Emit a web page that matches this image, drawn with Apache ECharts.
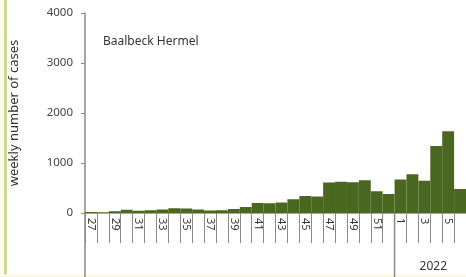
<!DOCTYPE html>
<html>
<head>
<meta charset="utf-8">
<script src="https://cdn.jsdelivr.net/npm/echarts@6/dist/echarts.min.js"></script>
<style>
html, body { margin: 0; padding: 0; background: #fff; }
#main { width: 466px; height: 277px; }
</style>
</head>
<body>
<div id="main"></div>
<script>
// weeks: 27..52 of 2021, then 1..6 of 2022
var weeks = ['27','28','29','30','31','32','33','34','35','36','37','38','39','40',
  '41','42','43','44','45','46','47','48','49','50','51','52','1','2','3','4','5','6'];
var cases = [20, 10, 35, 65, 45, 55, 70, 95, 90, 70, 50, 55, 80, 120,
  200, 195, 210, 275, 340, 330, 610, 625, 615, 655, 435, 380,
  670, 775, 645, 1340, 1635, 480];
var yTicks = [0, 1000, 2000, 3000, 4000];
var yearLabel = '2022';
var yearStart = '1';

var font = 'Noto Sans';
var chart = echarts.init(document.getElementById('main'));

var option = {
  animation: false,
  textStyle: { fontFamily: font },
  title: {
    text: 'Baalbeck Hermel',
    left: 98, top: 31,
    textStyle: { fontSize: 12, fontWeight: 'normal', color: '#333', fontFamily: font }
  },
  grid: { left: 83, top: 13, bottom: 64, right: -6 },
  xAxis: {
    type: 'category',
    data: weeks,
    axisLine: { lineStyle: { color: '#8a8a8a', width: 1.5 } },
    axisTick: { show: true, length: 30, interval: 0, lineStyle: { color: '#888' } },
    axisLabel: { interval: 1, rotate: -90, margin: 5, fontSize: 11, color: '#333' }
  },
  yAxis: {
    type: 'value',
    min: yTicks[0], max: yTicks[yTicks.length - 1], interval: 1000,
    name: 'weekly number of cases',
    nameLocation: 'middle', nameGap: 64,
    nameTextStyle: { fontSize: 13, color: '#333' },
    splitLine: { show: false },
    axisLine: { show: true, lineStyle: { color: '#8a8a8a', width: 1.5 } },
    axisTick: { show: true, length: 4, lineStyle: { color: '#8a8a8a' } },
    axisLabel: { fontSize: 11.5, color: '#444', margin: 12, formatter: function (v) { return String(v); } }
  },
  series: [{
    type: 'bar',
    data: cases,
    barCategoryGap: '0%',
    itemStyle: { color: '#4a6720' }
  }]
};
chart.setOption(option);

// extra lines: y axis extends to bottom, year separator, year label, left border
var yZero = chart.convertToPixel({ yAxisIndex: 0 }, yTicks[0]);
var xFirst = chart.convertToPixel({ xAxisIndex: 0 }, weeks[0]);
var xYear = chart.convertToPixel({ xAxisIndex: 0 }, yearStart);
var xLast = chart.convertToPixel({ xAxisIndex: 0 }, weeks[weeks.length - 1]);
var halfBand = (chart.convertToPixel({ xAxisIndex: 0 }, weeks[1]) - xFirst) / 2;
chart.setOption({
  graphic: [
    { type: 'rect', shape: { x: 0, y: 0, width: 4, height: 277 }, style: { fill: '#fbfbea' }, silent: true },
    { type: 'rect', shape: { x: 4, y: 0, width: 3, height: 277 }, style: { fill: '#d3d594' }, silent: true },
    { type: 'rect', shape: { x: 0, y: 274, width: 466, height: 3 }, style: { fill: '#fbf8e6' }, silent: true },
    { type: 'line', shape: { x1: xFirst - halfBand, y1: yZero, x2: xFirst - halfBand, y2: 277 },
      style: { stroke: '#8a8a8a', lineWidth: 1.5 }, silent: true },
    { type: 'line', shape: { x1: xYear - halfBand, y1: yZero, x2: xYear - halfBand, y2: 277 },
      style: { stroke: '#8a8a8a', lineWidth: 1.5 }, silent: true },
    { type: 'text', x: (xYear + xLast) / 2 + 3, y: 267,
      style: { text: yearLabel, font: '12px "Noto Sans"', fill: '#333', align: 'center', verticalAlign: 'middle' }, silent: true }
  ]
});
</script>
</body>
</html>
